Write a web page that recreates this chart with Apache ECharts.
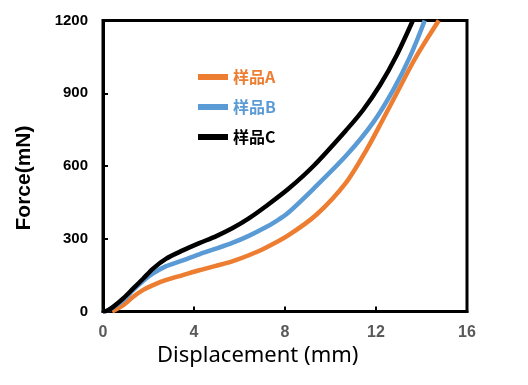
<!DOCTYPE html>
<html>
<head>
<meta charset="utf-8">
<script src="https://cdn.jsdelivr.net/npm/echarts@6/dist/echarts.min.js"></script>
<style>html,body{margin:0;padding:0;background:#fff}#c{width:528px;height:385px}</style>
</head>
<body>
<div id="c"></div>
<script>
var seriesNames = ['样品A', '样品B', '样品C'];
var seriesColors = ['#ED7D31', '#5B9BD5', '#000000'];
var xTicks = [0, 4, 8, 12, 16];
var yTicks = [0, 300, 600, 900, 1200];
var xTitle = 'Displacement (mm)';
var yTitle = 'Force(mN)';

var sampleA = [[0.4,0],[0.6,10],[0.9,27],[1.33,61],[1.77,89],[2.2,109],[2.78,130],[3.51,150],[4.23,170],[4.96,188],[5.68,207],[6.41,232],[7.13,262],[8.14,314],[9.39,400],[10.71,535],[11.59,668],[12.32,795],[12.91,900],[13.64,1030],[14.23,1122],[14.76,1200]];
var sampleB = [[0,0],[0.2,4],[0.46,18],[0.9,48],[1.33,89],[1.77,127],[2.2,157],[2.78,187],[3.51,211],[4.23,236],[4.96,259],[5.68,283],[6.41,312],[7.13,346],[7.6,372],[8.1,404],[9.24,505],[10.71,645],[11.88,780],[12.76,914],[13.49,1050],[14.14,1200]];
var sampleC = [[0,0],[0.2,4],[0.46,20],[0.9,55],[1.33,95],[1.77,136],[2.2,177],[2.78,218],[3.51,252],[4.23,282],[4.96,310],[5.68,343],[6.41,384],[7.13,432],[8.14,505],[9.24,599],[10.71,750],[11.44,832],[12.18,934],[12.91,1057],[13.62,1200]];
var seriesData = [sampleA, sampleB, sampleC];

var chart = echarts.init(document.getElementById('c'), null, {renderer: 'canvas'});
var series = seriesNames.map(function (n, i) {
  return {
    name: n, type: 'line', data: seriesData[i], smooth: 0.3, showSymbol: false,
    lineStyle: {color: seriesColors[i], width: 4.5},
    itemStyle: {color: seriesColors[i]}, z: 2 + i
  };
});
chart.setOption({
  animation: false,
  backgroundColor: '#ffffff',
  grid: {left: 103, right: 61, top: 20.5, bottom: 73.5, show: true, borderColor: '#000', borderWidth: 3, backgroundColor: 'transparent'},
  legend: {
    orient: 'vertical', left: 193, top: 63, itemWidth: 30, itemHeight: 6, itemGap: 12, icon: 'rect',
    data: seriesNames.map(function (n, i) {
      return {name: n, textStyle: {color: seriesColors[i]}};
    }),
    textStyle: {fontFamily: 'Noto Sans CJK SC', fontWeight: 'bold', fontSize: 16, lineHeight: 18}
  },
  xAxis: {
    type: 'value', min: xTicks[0], max: xTicks[xTicks.length - 1], interval: 4,
    axisLine: {show: true, onZero: false, lineStyle: {color: '#000', width: 3}},
    axisTick: {show: true, inside: true, length: 5, lineStyle: {color: '#000', width: 2}},
    splitLine: {show: false},
    axisLabel: {color: '#595959', fontFamily: 'Liberation Sans', fontWeight: 'bold', fontSize: 16, margin: 13}
  },
  yAxis: {
    type: 'value', min: yTicks[0], max: yTicks[yTicks.length - 1], interval: 300,
    axisLine: {show: true, onZero: false, lineStyle: {color: '#000', width: 3}},
    axisTick: {show: true, inside: true, length: 5, lineStyle: {color: '#000', width: 2}},
    splitLine: {show: false},
    axisLabel: {color: '#000', fontFamily: 'Liberation Sans', fontWeight: 'bold', fontSize: 15, margin: 15,
      formatter: function (v) { return String(v); }}
  },
  graphic: [
    {type: 'text', left: 157, top: 345, style: {text: xTitle, font: '22px "Noto Sans"', fill: '#000'}},
    {type: 'text', x: 14, y: 178, rotation: Math.PI / 2, style: {text: yTitle, font: 'bold 21px "Liberation Sans"', fill: '#000', textAlign: 'center', textVerticalAlign: 'top'}}
  ],
  series: series
});
</script>
</body>
</html>
